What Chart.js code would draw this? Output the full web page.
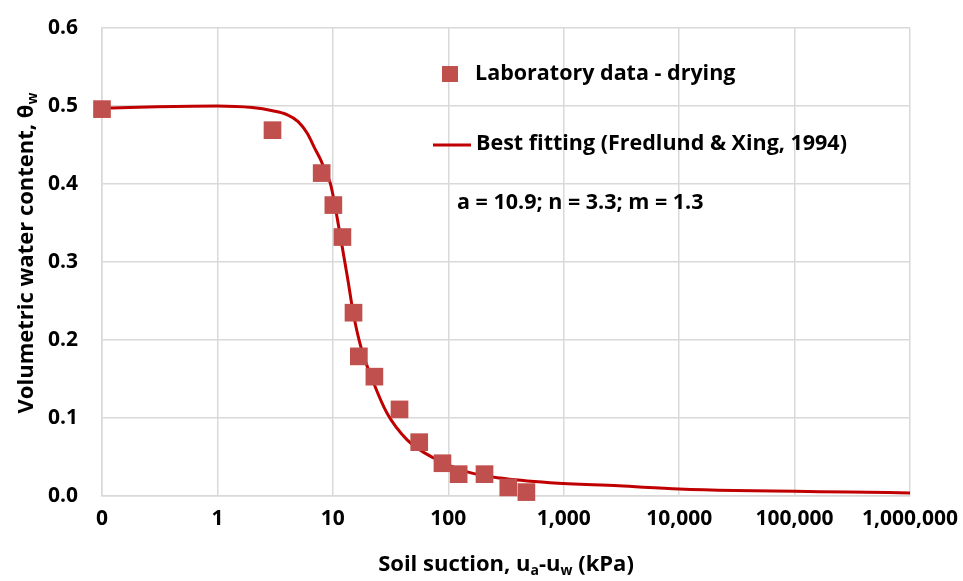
<!DOCTYPE html>
<html>
<head>
<meta charset="utf-8">
<script src="https://cdn.jsdelivr.net/npm/chart.js@4"></script>
<style>
  html, body { margin: 0; padding: 0; background: #fff; }
  #wrap { width: 963px; height: 581px; }
</style>
</head>
<body>
<div id="wrap"><canvas id="swcc" width="963" height="581"></canvas></div>
<script>
// lab points (drying)
const labSuction = [0.1, 3.0, 8.0, 10.1, 12.1, 15.1, 16.8, 22.9, 37.8, 56, 89, 123, 206, 331, 475];
const labTheta = [0.496, 0.469, 0.414, 0.373, 0.332, 0.235, 0.179, 0.153, 0.111, 0.069, 0.042, 0.028, 0.028, 0.011, 0.005];

// fitted curve
const fitSuction = [0.1, 0.3, 1, 2, 3, 4, 5, 6, 6.9, 7.9, 8.7, 9.5, 11.5, 13.5, 15, 17.5, 22, 29.5, 44, 74, 146, 281, 760, 3000, 10000, 30000, 100000, 300000, 1000000];
const fitTheta = [0.497, 0.499, 0.500, 0.498, 0.494, 0.489, 0.480, 0.465, 0.447, 0.430, 0.414, 0.401, 0.337, 0.277, 0.235, 0.191, 0.149, 0.106, 0.072, 0.049, 0.031, 0.023, 0.017, 0.013, 0.009, 0.007, 0.006, 0.005, 0.004];

const xTickValues = [0.1, 1, 10, 100, 1000, 10000, 100000, 1000000];
const labLabel = 'Laboratory data - drying';
const fitLabel = 'Best fitting (Fredlund & Xing, 1994)';
const paramText = 'a = 10.9; n = 3.3; m = 1.3';

const FONT = '"Open Sans", Lato, sans-serif';
const SQUARE = '#C0504D';
const LINE = '#C00000';
const GRID = '#d9d9d9';

function drawRich(ctx, parts, x, y) {
  // parts: [{t, sub}] drawn left-to-right, centred on x
  const main = `bold 22px ${FONT}`;
  const small = `bold 14px ${FONT}`;
  let total = 0;
  parts.forEach((p) => {
    ctx.font = p.sub ? small : main;
    total += ctx.measureText(p.t).width;
  });
  let cx = x - total / 2;
  ctx.textAlign = 'left';
  ctx.textBaseline = 'middle';
  parts.forEach((p) => {
    ctx.font = p.sub ? small : main;
    ctx.fillText(p.t, cx, p.sub ? y + 6 : y);
    cx += ctx.measureText(p.t).width;
  });
}

const decorations = {
  id: 'decorations',
  afterDraw(chart) {
    const ctx = chart.ctx;
    const area = chart.chartArea;
    ctx.save();
    ctx.fillStyle = '#000';

    // axis titles
    drawRich(ctx, [
      { t: 'Soil suction, u' }, { t: 'a', sub: true }, { t: '-u' }, { t: 'w', sub: true }, { t: ' (kPa)' }
    ], (area.left + area.right) / 2, 565);

    ctx.translate(27, 253);
    ctx.rotate(-Math.PI / 2);
    drawRich(ctx, [{ t: 'Volumetric water content, θ' }, { t: 'w', sub: true }], 0, 0);
    ctx.setTransform(1, 0, 0, 1, 0, 0);

    // legend inside plot
    ctx.fillStyle = SQUARE;
    ctx.fillRect(442, 66, 16, 16);
    ctx.strokeStyle = LINE;
    ctx.lineWidth = 3;
    ctx.beginPath();
    ctx.moveTo(433, 145);
    ctx.lineTo(471, 145);
    ctx.stroke();

    ctx.fillStyle = '#000';
    ctx.font = `bold 21.5px ${FONT}`;
    ctx.textAlign = 'left';
    ctx.textBaseline = 'middle';
    ctx.fillText(labLabel, 475, 74);
    ctx.fillText(fitLabel, 476, 144);
    ctx.fillText(paramText, 457, 203);
    ctx.restore();
  }
};

new Chart(document.getElementById('swcc'), {
  type: 'scatter',
  data: {
    datasets: [
      {
        label: labLabel,
        data: labSuction.map((s, i) => ({ x: s, y: labTheta[i] })),
        pointStyle: 'rect',
        pointRadius: 12.5,
        pointHoverRadius: 12.5,
        backgroundColor: SQUARE,
        borderWidth: 0,
        clip: false,
        order: 0
      },
      {
        label: fitLabel,
        data: fitSuction.map((s, i) => ({ x: s, y: fitTheta[i] })),
        showLine: true,
        borderColor: LINE,
        borderWidth: 3,
        pointRadius: 0,
        cubicInterpolationMode: 'monotone',
        order: 1
      }
    ]
  },
  options: {
    responsive: false,
    animation: false,
    layout: { padding: { top: 28, right: 53, left: 0, bottom: 0 } },
    plugins: {
      legend: { display: false },
      tooltip: { enabled: false }
    },
    scales: {
      x: {
        type: 'logarithmic',
        min: 0.1,
        max: 1000000,
        afterBuildTicks: (scale) => {
          scale.ticks = xTickValues.map((v) => ({ value: v }));
        },
        afterFit: (scale) => {
          scale.height = 85;
          scale.paddingLeft = 0;
          scale.paddingRight = 0;
        },
        ticks: {
          color: '#000',
          padding: 10,
          maxRotation: 0,
          autoSkip: false,
          font: { family: FONT, size: 21, weight: 'bold' },
          callback: (v) => (v < 1 ? '0' : Number(v).toLocaleString('en-US'))
        },
        grid: { color: GRID, lineWidth: 1.5, drawTicks: false },
        border: { color: GRID, width: 1.5 }
      },
      y: {
        min: 0,
        max: 0.6,
        afterFit: (scale) => {
          scale.width = 102;
          scale.paddingTop = 0;
          scale.paddingBottom = 0;
        },
        ticks: {
          stepSize: 0.1,
          color: '#000',
          padding: 24,
          font: { family: FONT, size: 21, weight: 'bold' },
          callback: (v) => v.toFixed(1)
        },
        grid: { color: GRID, lineWidth: 1.5, drawTicks: false },
        border: { color: GRID, width: 1.5 }
      }
    }
  },
  plugins: [decorations]
});
</script>
</body>
</html>
